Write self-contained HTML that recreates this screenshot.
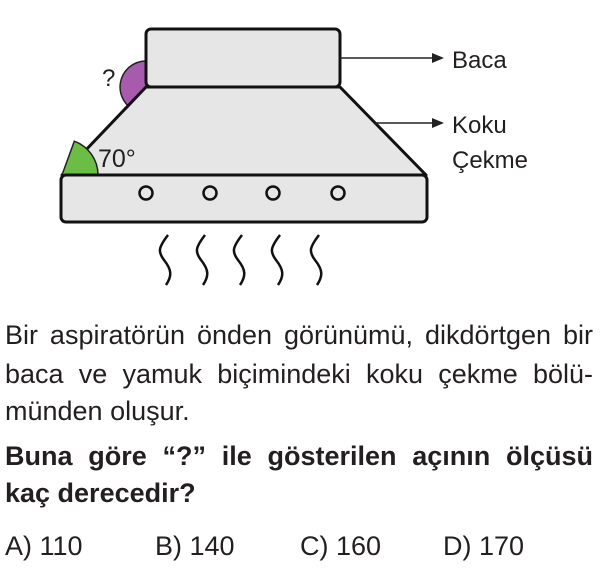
<!DOCTYPE html>
<html><head><meta charset="utf-8"><style>
body{margin:0;width:611px;height:572px;background:#fff;position:relative;overflow:hidden;font-family:"Liberation Sans",Arial,sans-serif;color:#231f20}
.l{position:absolute;left:5px;width:588px;font-size:27px;line-height:38px;text-align:justify;text-align-last:justify;white-space:nowrap}
.b{font-weight:bold}
.a{position:absolute;top:527px;font-size:27px;line-height:38px}
svg{position:absolute;left:0;top:0}
</style></head><body>
<svg width="611" height="310" viewBox="0 0 611 310">
<path d="M146 87 L146 61 A26 26 0 0 0 137.1 111.4 Z" fill="#a85aad" stroke="#222" stroke-width="1.5"/>
<rect x="146" y="29" width="194" height="58" rx="5" fill="#e6e6e6" stroke="#111" stroke-width="3"/>
<path d="M146 87 L340 87 L426 175 L62 175 Z" fill="#e6e6e6" stroke="#111" stroke-width="3" stroke-linejoin="round"/>
<path d="M62 175 L98 175 A36 36 0 0 0 74.3 141.2 Z" fill="#6cbd45" stroke="#222" stroke-width="1.5"/>
<rect x="61" y="175" width="366" height="47" rx="5" fill="#e6e6e6" stroke="#111" stroke-width="3"/>
<g fill="none" stroke="#111" stroke-width="2.5">
<circle cx="146" cy="193" r="6.5"/><circle cx="210" cy="193" r="6.5"/><circle cx="273" cy="193" r="6.5"/><circle cx="338" cy="193" r="6.5"/>
</g>
<g fill="none" stroke="#111" stroke-width="2.5">
<path d="M168 235 C158 248,158 252,164 260 C172 270,172 276,166 285"/>
<path d="M205 235 C195 248,195 252,201 260 C209 270,209 276,203 285"/>
<path d="M242 235 C232 248,232 252,238 260 C246 270,246 276,240 285"/>
<path d="M280 235 C270 248,270 252,276 260 C284 270,284 276,278 285"/>
<path d="M319 235 C309 248,309 252,315 260 C323 270,323 276,317 285"/>
</g>
<g stroke="#222" stroke-width="1.5"><line x1="340" y1="58" x2="434" y2="58"/><line x1="375" y1="123" x2="434" y2="123"/></g>
<path d="M444 58 L432 53 L432 63 Z M444 123 L432 118 L432 128 Z" fill="#222"/>
<g font-family="Liberation Sans, Arial, sans-serif" font-size="24" fill="#231f20">
<text x="452" y="68">Baca</text><text x="452" y="133">Koku</text><text x="452" y="168">Çekme</text>
<text x="98" y="167" font-size="25">70°</text><text x="102" y="86" font-size="24">?</text>
</g>
</svg>
<div class="l" style="top:316px">Bir aspiratörün önden görünümü, dikdörtgen bir</div>
<div class="l" style="top:355px">baca ve yamuk biçimindeki koku çekme bölü-</div>
<div class="l" style="top:392px;text-align-last:left">münden oluşur.</div>
<div class="l b" style="top:437px">Buna göre “?” ile gösterilen açının ölçüsü</div>
<div class="l b" style="top:474px;text-align-last:left">kaç derecedir?</div>
<div class="a" style="left:5px">A) 110</div>
<div class="a" style="left:155px">B) 140</div>
<div class="a" style="left:300px">C) 160</div>
<div class="a" style="left:443px">D) 170</div>
</body></html>
